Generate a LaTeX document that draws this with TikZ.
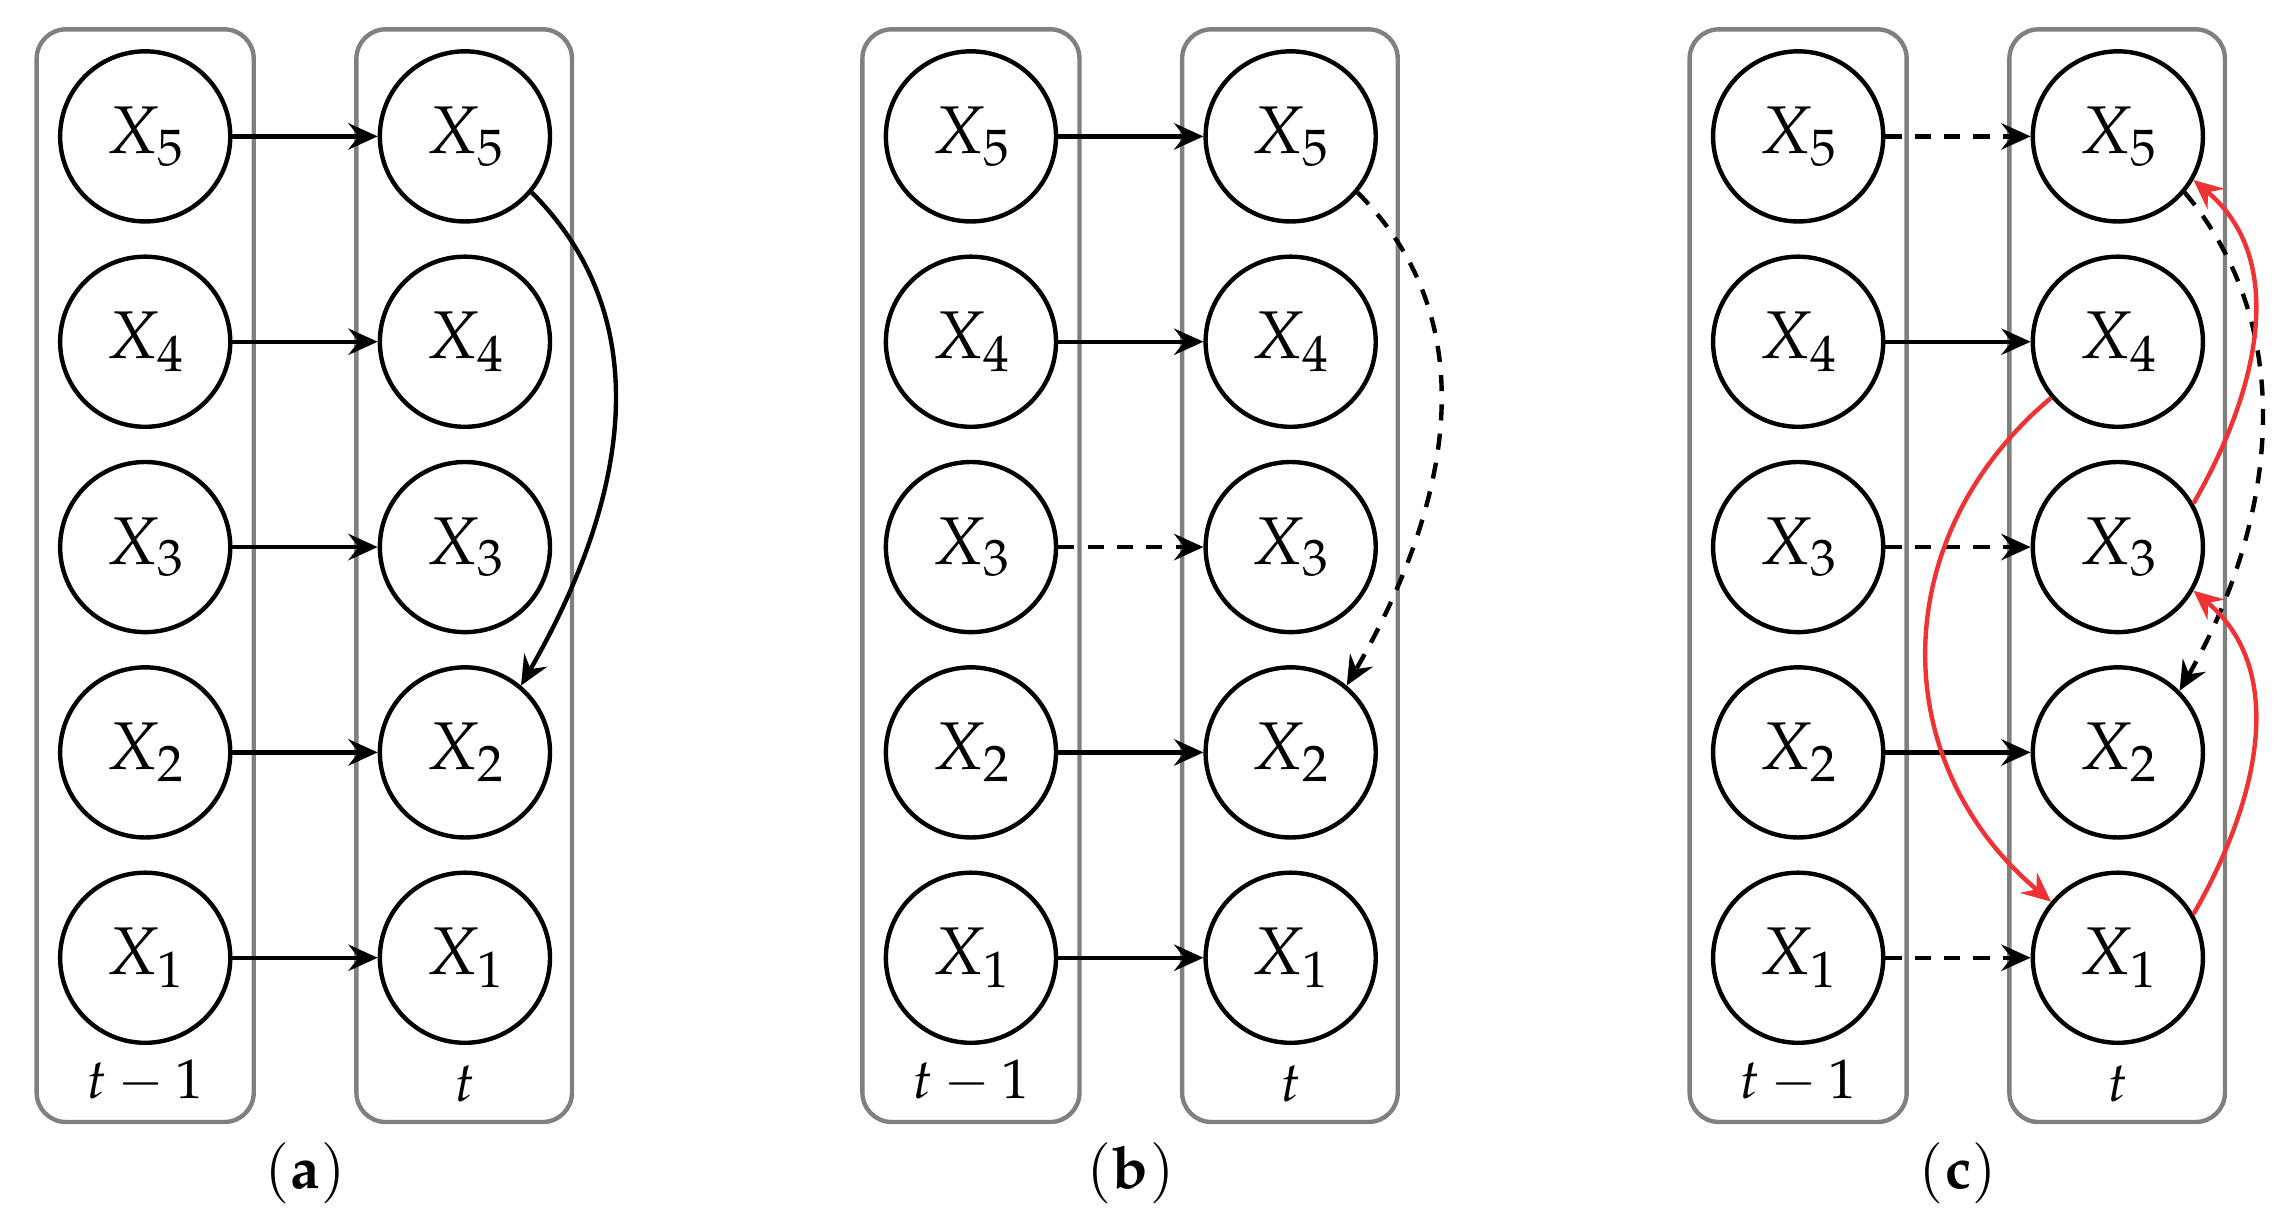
\documentclass[tikz,border=0pt]{standalone}
\usepackage{mathpazo}
\usetikzlibrary{arrows.meta}
\begin{document}
\begin{tikzpicture}[x=1pt,y=-1pt,
  v/.style={circle,draw,line width=3pt,minimum size=116pt,inner sep=0pt,font=\fontsize{46}{52}\selectfont},
  box/.style={draw=black!50,line width=3pt,rounded corners=20pt},
  ar/.style={line width=3pt,-{Stealth[length=20pt,width=18pt,inset=7pt]}},
  da/.style={ar,dash pattern=on 11pt off 9pt},
  rd/.style={ar,draw={rgb,255:red,240;green,50;blue,50}},
  lab/.style={font=\fontsize{38}{42}\selectfont}]
\useasboundingbox (0,0) rectangle (1560,832);
\foreach \p/\o/\c in {a/0/a,b/563/b,c/1127/c}{
  \begin{scope}[xshift=\o pt]
  \draw[box] (25,20) rectangle (173,765);
  \draw[box] (243,20) rectangle (390,765);
  \foreach \i/\y in {5/93,4/233,3/373,2/513,1/653}{
    \node[v] (\p L\i) at (99,\y) {$X_{\i}$};
    \node[v] (\p R\i) at (317,\y) {$X_{\i}$};
  }
  \node[lab] (\p t1) at (99,737) {$t-1$};
  \node[lab] (\p t) at (317,739) {$t$};
  \node[font=\fontsize{40}{44}\selectfont] (\p cap) at (208,800) {$\mathbf{(\c)}$};
  \end{scope}
}
% (a)
\foreach \i in {1,...,5}{\draw[ar] (aL\i) -- (aR\i);}
\draw[ar] (aR5.-40) to[out=-45,in=60,looseness=1.0] (aR2.50);
% (b)
\foreach \i in {1,2,4,5}{\draw[ar] (bL\i) -- (bR\i);}
\draw[da] (bL3) -- (bR3);
\draw[da] (bR5.-40) to[out=-45,in=60,looseness=1.0] (bR2.50);
% (c)
\foreach \i in {1,3,5}{\draw[da] (cL\i) -- (cR\i);}
\foreach \i in {2,4}{\draw[ar] (cL\i) -- (cR\i);}
\draw[da] (cR5.-40) to[out=-50,in=60,looseness=0.95] (cR2.45);
\draw[rd] (cR4.-140) to[out=-140,in=140,looseness=1.1] (cR1.140);
\draw[rd] (cR3.30) to[out=60,in=-40,looseness=1.0] (cR5.-30);
\draw[rd] (cR1.30) to[out=60,in=-40,looseness=1.0] (cR3.-30);
\end{tikzpicture}
\end{document}
